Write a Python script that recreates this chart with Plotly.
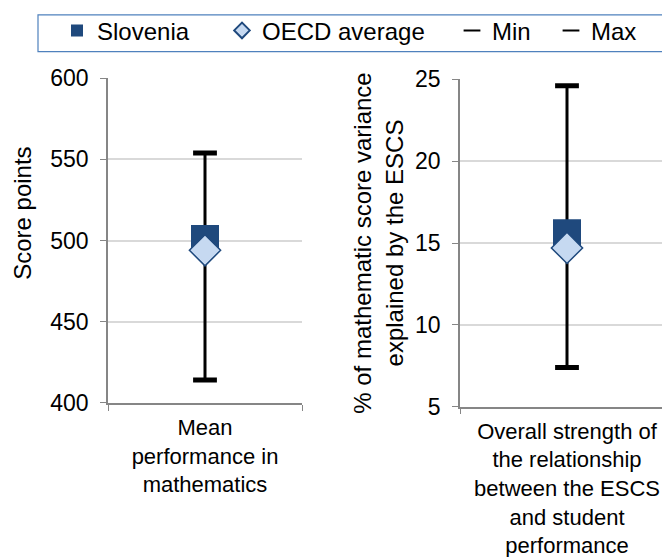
import plotly.graph_objects as go

categories = ["Mean<br>performance in<br>mathematics",
              "Overall strength of<br>the relationship<br>between the ESCS<br>and student<br>performance"]
slovenia = [501, 15.6]
oecd = [494, 14.7]
min_vals = [414, 7.4]
max_vals = [554, 24.6]
y_titles = ["Score points", "% of mathematic score variance<br>explained by the ESCS"]
y_ranges = [[400, 600], [5, 25]]
y_dticks = [50, 5]

W, H = 670, 557
DARK = "#1F497D"
LIGHT = "#C6D9F1"
FONT = "Liberation Sans, Arial, sans-serif"

fig = go.Figure()
axes = [("x", "y"), ("x2", "y2")]
for i in range(2):
    xa, ya = axes[i]
    cat = [categories[i]]
    fig.add_trace(go.Scatter(x=cat * 2, y=[min_vals[i], max_vals[i]], mode="lines",
                             line=dict(color="black", width=3), showlegend=False,
                             xaxis=xa, yaxis=ya, hoverinfo="skip"))
    fig.add_trace(go.Scatter(x=cat, y=[min_vals[i]], mode="markers", name="Min",
                             marker=dict(symbol="line-ew", size=17, line=dict(color="black", width=5)),
                             showlegend=(i == 0), legend="legend3", xaxis=xa, yaxis=ya))
    fig.add_trace(go.Scatter(x=cat, y=[max_vals[i]], mode="markers", name="Max",
                             marker=dict(symbol="line-ew", size=17, line=dict(color="black", width=5)),
                             showlegend=(i == 0), legend="legend4", xaxis=xa, yaxis=ya))
    fig.add_trace(go.Scatter(x=cat, y=[slovenia[i]], mode="markers", name="Slovenia",
                             marker=dict(symbol="square", size=28, color=DARK),
                             showlegend=(i == 0), legend="legend", xaxis=xa, yaxis=ya))
    fig.add_trace(go.Scatter(x=cat, y=[oecd[i]], mode="markers", name="OECD average",
                             marker=dict(symbol="diamond", size=24, color=LIGHT,
                                         line=dict(color=DARK, width=1.5)),
                             showlegend=(i == 0), legend="legend2", xaxis=xa, yaxis=ya))

# page body adds an 8px offset; figure coordinates below are compensated for it
xdom = [[100 / W, 294 / W], [452 / W, 666 / W]]
ydom = [[1 - 393 / H, 1 - 65 / H], [1 - 397 / H, 1 - 66 / H]]

layout = dict(width=W, height=H, margin=dict(l=0, r=0, t=0, b=0),
              paper_bgcolor="white", plot_bgcolor="white",
              font=dict(family=FONT, size=23, color="black"))
for i in range(2):
    sx = "" if i == 0 else "2"
    layout["xaxis" + sx] = dict(domain=xdom[i], anchor="y" + sx, type="category",
                                range=[-0.5, 0.5], tickson="boundaries", ticks="outside",
                                ticklen=6, tickcolor="#868686", showline=True,
                                linecolor="#868686", linewidth=1.5, showgrid=False,
                                tickfont=dict(size=22), ticklabelstandoff=4,
                                automargin=False)
    layout["yaxis" + sx] = dict(domain=ydom[i], anchor="x" + sx, range=y_ranges[i],
                                dtick=y_dticks[i], ticks="outside", ticklen=6,
                                tickcolor="#868686", showline=True, linecolor="#868686",
                                linewidth=1.5, showgrid=True, gridcolor="#D9D9D9",
                                gridwidth=1.5, zeroline=False, tickfont=dict(size=23),
                                ticklabelstandoff=7, automargin=False)
layout["yaxis2"]["title"] = dict(text=y_titles[1], font=dict(size=24), standoff=5)

ly = 1 - 17 / H
legend_x = [49, 214, 444, 543]
for name, x in zip(["legend", "legend2", "legend3", "legend4"], legend_x):
    layout[name] = dict(x=x / W, y=ly, xanchor="left", yanchor="middle",
                        orientation="h", bgcolor="rgba(0,0,0,0)",
                        font=dict(size=24), itemsizing="constant")

fig.update_layout(**layout)
fig.add_annotation(text=y_titles[0], xref="paper", yref="paper", x=15 / W, y=1 - 202 / H,
                   xanchor="center", yanchor="middle", textangle=-90, showarrow=False,
                   font=dict(size=24))
fig.add_shape(type="rect", xref="paper", yref="paper", x0=30 / W, x1=1.02,
              y0=1 - 38 / H, y1=1 - 0.8 / H, line=dict(color="#4F81BD", width=1.2),
              layer="below")

fig.write_html("out.html")
